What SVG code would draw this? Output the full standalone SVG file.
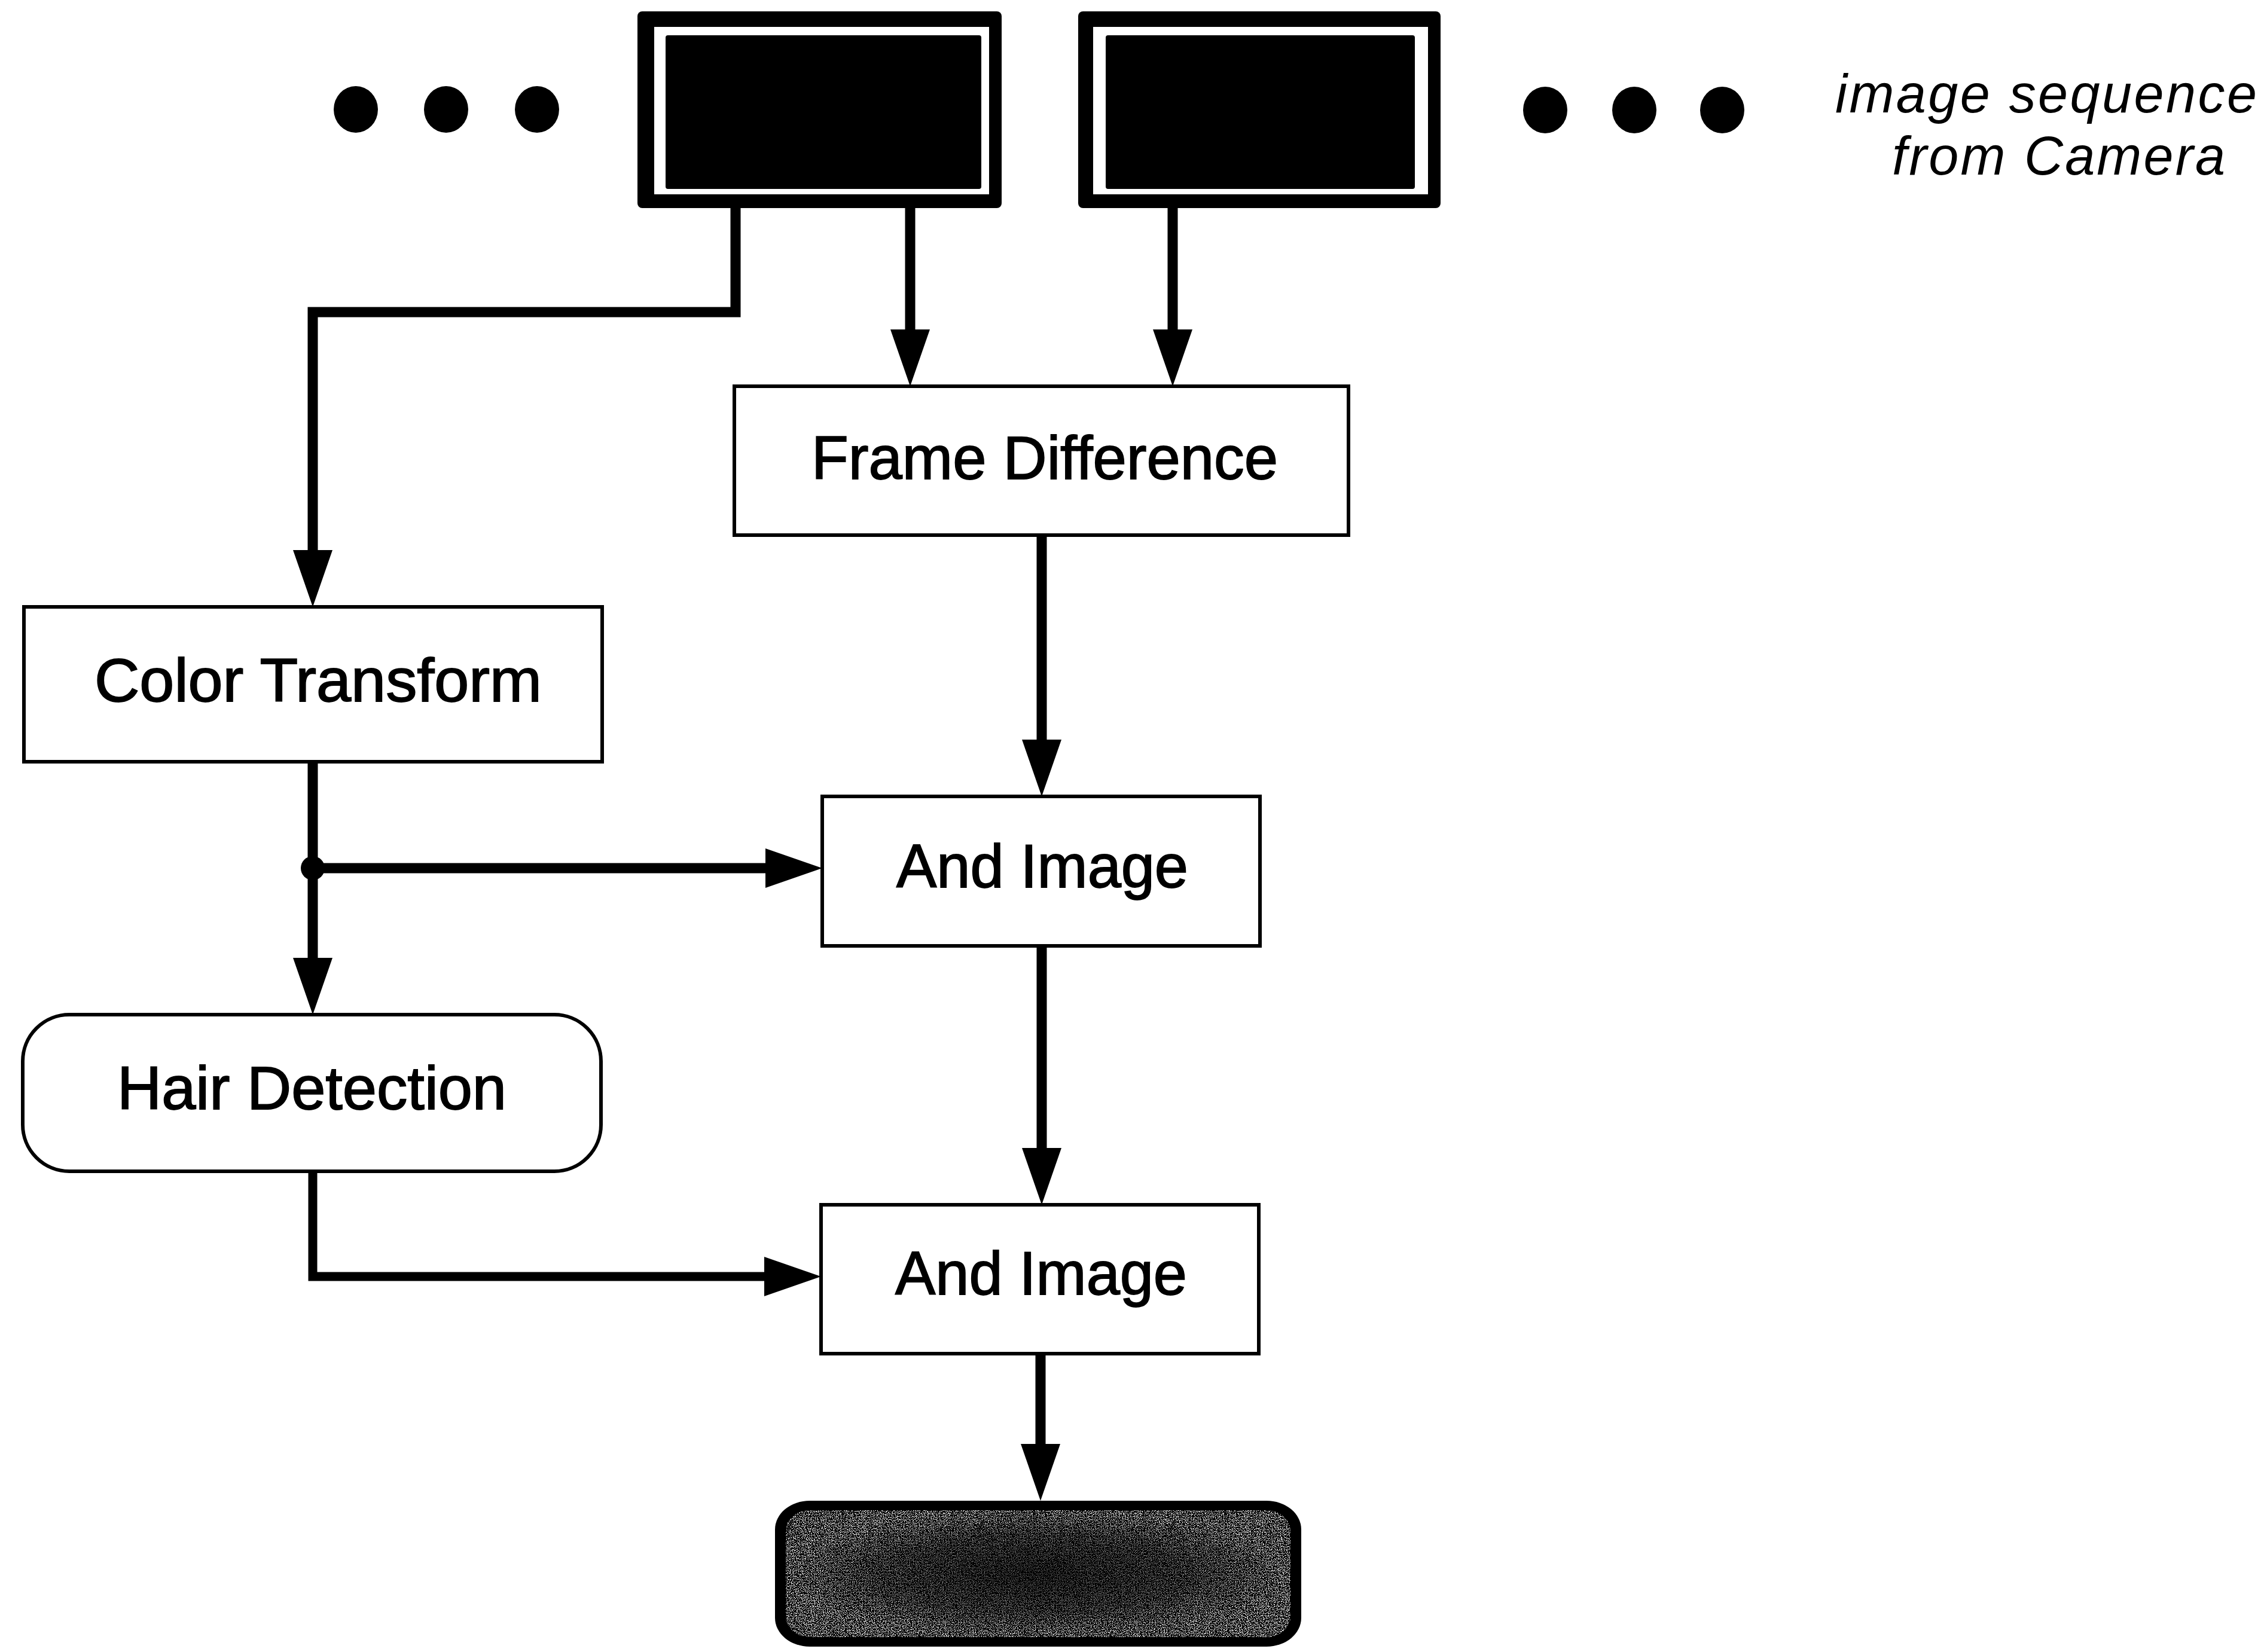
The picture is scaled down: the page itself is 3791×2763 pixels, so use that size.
<svg xmlns="http://www.w3.org/2000/svg" width="3791" height="2763" viewBox="0 0 3791 2763">
  <style>
    .box { fill: #ffffff; stroke: #000000; stroke-width: 6; }
    .label { font-family: "Liberation Sans", Arial, sans-serif; font-size: 102px; fill: #000000; stroke: #000000; stroke-width: 1.8; }
    .note { font-family: "Liberation Sans", Arial, sans-serif; font-style: italic; font-size: 90px; fill: #000000; }
    .wire { fill: none; stroke: #000000; stroke-width: 17; stroke-linejoin: miter; }
    .thin { stroke-width: 15; }
    .frame-outer { fill: #000000; }
    .frame-gap { fill: #ffffff; }
    .frame-inner { fill: #000000; }
    .dot { fill: #000000; }
  </style>
  <defs>
    <marker id="head" viewBox="0 0 95 66" refX="35" refY="33" markerWidth="95" markerHeight="66" markerUnits="userSpaceOnUse" orient="auto">
      <path d="M0,0 L95,33 L0,66 Z" fill="#000000"/>
    </marker>
    <!-- white speckle texture laid over the dark output block -->
    <filter id="grain" x="0" y="0" width="100%" height="100%">
      <feTurbulence type="fractalNoise" baseFrequency="0.8" numOctaves="1" seed="11" result="noise"/>
      <feColorMatrix in="noise" type="matrix" values="0 0 0 0 1  0 0 0 0 1  0 0 0 0 1  14 0 0 0 -7.4" result="specks"/>
      <feComposite in="specks" in2="SourceAlpha" operator="in"/>
    </filter>
    <!-- darkens the middle of the block, specks thicken toward the rim -->
    <radialGradient id="core" cx="0.5" cy="0.5" r="0.5">
      <stop offset="0" stop-color="#000000" stop-opacity="0.7"/>
      <stop offset="0.6" stop-color="#000000" stop-opacity="0.45"/>
      <stop offset="1" stop-color="#000000" stop-opacity="0"/>
    </radialGradient>
  </defs>

  <!-- ellipsis before the frames -->
  <g id="dots-left">
    <ellipse class="dot" cx="595" cy="183" rx="37" ry="39"/>
    <ellipse class="dot" cx="746" cy="183" rx="37" ry="39"/>
    <ellipse class="dot" cx="898" cy="183" rx="37" ry="39"/>
  </g>

  <!-- camera frames -->
  <g id="frame-1">
    <rect class="frame-outer" x="1066" y="19" width="609" height="329" rx="8"/>
    <rect class="frame-gap" x="1094" y="45" width="560" height="280"/>
    <rect class="frame-inner" x="1113" y="59" width="528" height="257" rx="4"/>
  </g>
  <g id="frame-2">
    <rect class="frame-outer" x="1803" y="19" width="606" height="329" rx="8"/>
    <rect class="frame-gap" x="1828" y="45" width="560" height="280"/>
    <rect class="frame-inner" x="1849" y="59" width="517" height="257" rx="4"/>
  </g>

  <!-- ellipsis after the frames -->
  <g id="dots-right">
    <ellipse class="dot" cx="2584" cy="184" rx="37" ry="39"/>
    <ellipse class="dot" cx="2733" cy="184" rx="37" ry="39"/>
    <ellipse class="dot" cx="2880" cy="184" rx="37" ry="39"/>
  </g>

  <g id="caption">
    <text class="note" x="3069" y="188" textLength="705" lengthAdjust="spacing">image sequence</text>
    <text class="note" x="3164" y="292" textLength="557" lengthAdjust="spacing">from Camera</text>
  </g>

  <!-- processing blocks -->
  <g id="frame-difference">
    <rect class="box" x="1228" y="646" width="1027" height="249"/>
    <text class="label" x="1357" y="801" textLength="780" lengthAdjust="spacingAndGlyphs">Frame Difference</text>
  </g>
  <g id="color-transform">
    <rect class="box" x="40" y="1015" width="967" height="259"/>
    <text class="label" x="158" y="1173" textLength="748" lengthAdjust="spacingAndGlyphs">Color Transform</text>
  </g>
  <g id="and-image-1">
    <rect class="box" x="1375" y="1332" width="732" height="250"/>
    <text class="label" x="1499" y="1484" textLength="488" lengthAdjust="spacingAndGlyphs">And Image</text>
  </g>
  <g id="hair-detection">
    <rect class="box" x="38" y="1697" width="967" height="262" rx="78" ry="78"/>
    <text class="label" x="196" y="1855" textLength="651" lengthAdjust="spacingAndGlyphs">Hair Detection</text>
  </g>
  <g id="and-image-2">
    <rect class="box" x="1373" y="2015" width="732" height="249"/>
    <text class="label" x="1497" y="2165" textLength="488" lengthAdjust="spacingAndGlyphs">And Image</text>
  </g>
  <g id="output">
    <rect x="1296" y="2510" width="880" height="244" rx="58" ry="48" fill="#000000"/>
    <rect x="1314" y="2526" width="844" height="212" rx="40" ry="34" fill="#000000" filter="url(#grain)"/>
    <rect x="1314" y="2526" width="844" height="212" rx="40" ry="34" fill="url(#core)"/>
  </g>

  <!-- connectors -->
  <g id="connectors">
    <path class="wire" d="M1230,348 V522 H523 V955" marker-end="url(#head)"/>
    <path class="wire" d="M1522,348 V586" marker-end="url(#head)"/>
    <path class="wire" d="M1961,348 V586" marker-end="url(#head)"/>
    <path class="wire" d="M1742,895 V1272" marker-end="url(#head)"/>
    <path class="wire" d="M1742,1582 V1955" marker-end="url(#head)"/>
    <path class="wire" d="M1740,2264 V2450" marker-end="url(#head)"/>
    <path class="wire" d="M523,1274 V1637" marker-end="url(#head)"/>
    <path class="wire" d="M523,1452 H1315" marker-end="url(#head)"/>
    <path class="wire thin" d="M523,1959 V2135 H1313" marker-end="url(#head)"/>
    <circle cx="523" cy="1452" r="20" fill="#000000"/>
  </g>
</svg>
